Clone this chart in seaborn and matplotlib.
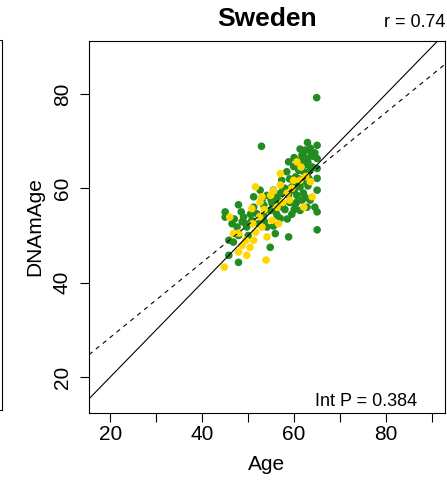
import matplotlib
matplotlib.use("Agg")
import matplotlib.pyplot as plt
import seaborn as sns
import pandas as pd
import numpy as np
from matplotlib.lines import Line2D

# ---- data ----
green_age = [64.9, 52.9, 62.9, 65.0, 61.3, 62.4, 63.7, 65.0, 61.7, 62.8, 64.0, 58.8, 59.9, 61.3, 62.5,
             63.5, 65.0, 58.4, 60.3, 62.1, 63.2, 65.0, 61.0, 65.0, 61.3, 59.5, 57.3, 55.5, 54.1, 52.6,
             51.2, 57.0, 58.8, 60.6, 61.7, 60.2, 61.3, 62.8, 63.5, 65.0, 65.0, 58.8, 54.8, 47.9, 47.9,
             45.0, 45.0, 49.0, 48.7, 47.6, 45.8, 46.8, 47.9, 49.7, 50.8, 51.9, 53.4, 54.8, 56.3, 57.0,
             54.1, 55.9, 52.3, 55.2, 53.4, 51.2, 45.8, 59.0, 60.0, 62.0, 63.0, 58.0, 56.5, 59.5, 60.5,
             64.0, 62.0, 57.5, 53.5, 50.0, 46.5, 48.5, 55.5, 58.0, 56.0, 64.5, 61.5, 63.5, 60.5,
             60.0, 62.0, 63.0, 64.5, 59.0, 61.0, 57.5, 55.0, 53.0, 50.5, 49.5, 47.0, 56.0, 58.5, 60.0,
             62.5]
green_dnam = [79.2, 68.9, 69.7, 69.1, 68.3, 68.1, 67.5, 66.3, 67.0, 66.3, 66.8, 65.6, 64.6, 65.3, 65.0,
              63.9, 64.2, 63.5, 62.4, 63.5, 62.1, 62.1, 63.8, 59.6, 60.3, 60.3, 61.7, 59.6, 58.5, 59.6,
              58.2, 58.9, 58.5, 58.5, 57.5, 56.4, 55.3, 56.0, 57.5, 55.0, 51.2, 49.7, 47.5, 44.3, 56.5,
              55.0, 53.9, 53.9, 52.9, 51.8, 49.0, 48.6, 50.0, 51.8, 53.2, 54.6, 54.3, 55.3, 54.3, 53.6,
              51.8, 50.4, 52.5, 56.8, 56.4, 56.0, 45.8, 57.0, 59.5, 59.0, 60.5, 55.5, 57.5, 54.5, 61.0,
              64.5, 61.5, 56.0, 53.0, 50.0, 52.5, 55.0, 52.0, 60.0, 58.0, 56.0, 66.0, 68.5, 57.0,
              66.5, 67.5, 65.5, 67.5, 62.0, 62.0, 59.5, 57.5, 57.5, 54.5, 52.5, 53.5, 55.0, 53.5, 55.5,
              58.0]
yellow_age = [44.8, 47.9, 49.7, 53.9, 46.8, 46.0, 51.2, 51.6, 53.0, 51.6, 53.0, 54.9, 57.0, 57.0, 60.6,
              59.9, 63.5, 63.9, 62.1, 56.3, 52.6, 50.8, 56.6, 54.1, 50.4, 48.7, 55.2, 61.3, 52.5, 49.5,
              58.5, 59.0, 55.5, 57.5, 61.5, 59.5, 53.5, 48.0, 51.0, 62.5]
yellow_dnam = [43.3, 46.5, 45.8, 44.8, 50.4, 53.9, 49.0, 50.7, 51.8, 60.3, 58.2, 58.5, 60.7, 63.1, 65.6,
               61.7, 61.4, 58.2, 56.0, 56.0, 57.1, 55.7, 52.5, 49.7, 47.5, 47.9, 53.2, 61.7, 54.0, 49.0,
               59.0, 57.5, 59.5, 57.0, 64.5, 60.0, 55.5, 50.5, 52.5, 62.5]
group_names = ["green", "yellow"]
group_colors = {"yellow": "#FFD700", "green": "#228B22"}
fit_intercept = 12.5
fit_slope = 0.795
title = "Sweden"
r_text = "r = 0.74"
p_text = "Int P = 0.384"
x_ticks = [20, 30, 40, 50, 60, 70, 80, 90]
x_ticklabels = ["20", "", "40", "", "60", "", "80", ""]
y_ticks = [20, 40, 60, 80]

df = pd.DataFrame({
    "Age": green_age + yellow_age,
    "DNAmAge": green_dnam + yellow_dnam,
    "group": ["green"] * len(green_age) + ["yellow"] * len(yellow_age),
})

sns.set_style("white")
plt.rcParams["font.family"] = ["Liberation Sans", "DejaVu Sans"]
plt.rcParams["text.color"] = "black"
plt.rcParams["axes.labelcolor"] = "black"
plt.rcParams["xtick.color"] = "black"
plt.rcParams["ytick.color"] = "black"

W, H = 447, 483
fig = plt.figure(figsize=(W / 100, H / 100), dpi=100)
ax = fig.add_axes([89 / W, 1 - 413 / H, (445 - 89) / W, (413 - 41) / H])

sns.scatterplot(data=df, x="Age", y="DNAmAge", hue="group", hue_order=group_names,
                palette=group_colors, s=30, linewidth=0, legend=False, ax=ax, zorder=2)

ax.axline((0, 0), slope=1, color="black", lw=0.8, zorder=3)
ax.axline((0, fit_intercept), slope=fit_slope, color="black", lw=0.8,
          linestyle=(0, (4, 4)), zorder=3)

ax.set_xlim(15.4, 92.8)
ax.set_ylim(12.4, 91.2)
ax.set_xticks(x_ticks)
ax.set_xticklabels(x_ticklabels)
ax.set_yticks(y_ticks)
ax.set_yticklabels([str(v) for v in y_ticks], rotation=90, va="center")
ax.tick_params(axis="both", direction="out", length=6.5, width=0.8, color="black",
               labelcolor="black", labelsize=15, bottom=True, left=True)
ax.tick_params(axis="x", pad=2)
ax.tick_params(axis="y", pad=6)
for sp in ax.spines.values():
    sp.set_color("black")
    sp.set_linewidth(0.8)

ax.set_xlabel("Age", fontsize=15, labelpad=8, color="black")
ax.set_ylabel("DNAmAge", fontsize=15, labelpad=6, color="black")

fig.text(267 / W, 1 - 26 / H, title, fontsize=19, fontweight="bold", ha="center",
         va="baseline", color="black")
fig.text(445 / W, 1 - 27 / H, r_text, fontsize=13, ha="right", va="baseline", color="black")
ax.text(0.922, 0.019, p_text, fontsize=13, ha="right", va="baseline", color="black",
        transform=ax.transAxes)

# edge of neighbouring panel on the left
fig.add_artist(Line2D([2 / W, 2 / W], [1 - 40 / H, 1 - 410 / H], color="black", lw=0.8))
fig.add_artist(Line2D([0, 2 / W], [1 - 410 / H, 1 - 410 / H], color="black", lw=0.8))
fig.add_artist(Line2D([0, 2 / W], [1 - 40 / H, 1 - 40 / H], color="black", lw=0.8))

fig.savefig("out.png", dpi=100)
